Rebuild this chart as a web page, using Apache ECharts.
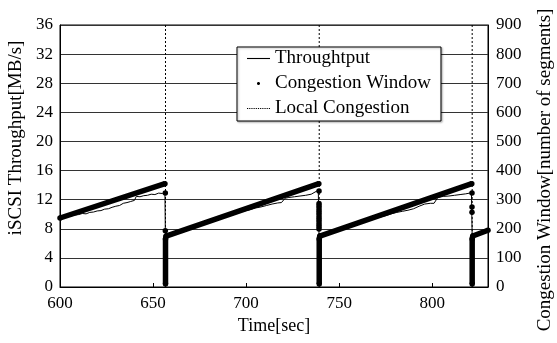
<!DOCTYPE html>
<html>
<head>
<meta charset="utf-8">
<script src="https://cdn.jsdelivr.net/npm/echarts@6/dist/echarts.min.js"></script>
<style>
html,body{margin:0;padding:0;background:#fff;}
#chart{width:557px;height:343px;}
</style>
</head>
<body>
<div id="chart"></div>
<script>
// ---- data ----
const xTicks = [600, 650, 700, 750, 800];
const leftTicks = [0, 4, 8, 12, 16, 20, 24, 28, 32, 36];
const rightTicks = [0, 100, 200, 300, 400, 500, 600, 700, 800, 900];

// Throughput [time(sec), MB/s]
const throughput = [
  [600, 9.45], [602, 9.55], [604, 9.7], [606, 9.75], [608, 9.9], [610, 9.95],
  [612, 10.1], [614, 10.05], [616, 10.25], [618, 10.3], [620, 10.45], [622, 10.5],
  [624, 10.7], [626, 10.75], [628, 10.95], [630, 11.1], [632, 11.2], [634, 11.5],
  [636, 11.6], [638, 11.75], [640, 11.9], [641, 12.45], [643, 12.4], [645, 12.55],
  [647, 12.6], [649, 12.75], [651, 12.7], [653, 12.9], [655, 12.85], [656.4, 12.95],
  [656.6, 7.7], [657, 7.0], [660, 7.35], [663, 7.6], [666, 7.85], [669, 8.1],
  [672, 8.35], [675, 8.6], [678, 8.8], [681, 9.05], [684, 9.35], [687, 9.5],
  [690, 9.8], [693, 10.0], [696, 10.25], [699, 10.45], [702, 10.6], [705, 10.85],
  [708, 11.0], [711, 11.2], [714, 11.4], [717, 11.55], [719, 11.6], [721, 12.2],
  [723, 12.3], [726, 12.4], [729, 12.5], [732, 12.6], [735, 12.75], [738.8, 13.3],
  [739.2, 7.0], [742, 7.2], [745, 7.45], [748, 7.7], [751, 7.95], [754, 8.2],
  [757, 8.45], [760, 8.7], [763, 8.9], [766, 9.15], [769, 9.4], [772, 9.6],
  [775, 9.8], [778, 10.05], [781, 10.25], [784, 10.4], [787, 10.55], [790, 10.75],
  [793, 11.1], [796, 11.4], [799, 11.5], [801, 11.5], [803, 12.3], [806, 12.45],
  [809, 12.5], [812, 12.6], [815, 12.7], [818, 12.8], [821.1, 12.95],
  [821.5, 7.0], [824, 7.2], [827, 7.45], [830, 7.7]
];

// Congestion window [time(sec), segments]; '-' = gap
const cwnd = [
  [600, 237], [656.4, 355], [656.5, '-'],
  [656.6, 323], [656.6, '-'], [656.6, 193], [656.6, '-'],
  [656.7, 10], [656.7, 165], [657, 175], [739.1, 355], [739.1, '-'],
  [739.2, 330], [739.2, '-'], [739.2, 287], [739.2, '-'], [739.2, 279], [739.2, '-'],
  [739.2, 271], [739.2, '-'], [739.2, 263], [739.2, '-'], [739.2, 255], [739.2, '-'],
  [739.2, 247], [739.2, '-'], [739.2, 239], [739.2, '-'], [739.2, 231], [739.2, '-'],
  [739.2, 223], [739.2, '-'], [739.2, 215], [739.2, '-'], [739.2, 207], [739.2, '-'],
  [739.2, 199], [739.2, '-'],
  [739.3, 10], [739.3, 165], [739.6, 175], [821.3, 355], [821.3, '-'],
  [821.4, 323], [821.4, '-'], [821.4, 275], [821.4, '-'], [821.4, 257], [821.4, '-'],
  [821.5, 10], [821.5, 165], [821.8, 175], [830, 195]
];

// Local congestion events (time, sec)
const congestionTimes = [656.7, 739.3, 821.5];

// ---- build ----
const localCong = [];
congestionTimes.forEach((t, i) => {
  if (i > 0) localCong.push([t, '-']);
  localCong.push([t, 0], [t, 36]);
});

const FONT = 'Liberation Serif';
const iconLine = 'path://M0,0L23,0L23,1.1L0,1.1Z';
const iconDot = 'path://M0,5L0.01,5L0.01,5.01L0,5.01ZM23,5L23.01,5L23.01,5.01L23,5.01ZM10.9,3.5L12.1,3.5L13,4.4L13,5.6L12.1,6.5L10.9,6.5L10,5.6L10,4.4Z';
let dotted = 'path://';
for (let x = 0; x < 23; x += 2.2) dotted += 'M' + x + ',0L' + (x + 1.2) + ',0L' + (x + 1.2) + ',1L' + x + ',1Z';
dotted += 'M23,0L23.01,0L23.01,0.01Z';

const chart = echarts.init(document.getElementById('chart'), null, {renderer: 'canvas'});
chart.setOption({
  animation: false,
  backgroundColor: '#fff',
  textStyle: {fontFamily: FONT, color: '#000'},
  grid: {left: 60, right: 69, top: 25, bottom: 56, show: true, borderColor: '#000', borderWidth: 1,
    containLabel: false, outerBoundsMode: 'none'},
  legend: {
    orient: 'vertical', left: 237, top: 47,
    padding: [2, 10, 3, 10], itemGap: 6, itemWidth: 23, itemHeight: 14,
    borderColor: '#000', borderWidth: 1, backgroundColor: '#fff',
    shadowColor: 'rgba(0,0,0,0.3)', shadowBlur: 2, shadowOffsetX: 1, shadowOffsetY: 1,
    itemStyle: {borderWidth: 0},
    textStyle: {fontFamily: FONT, fontSize: 19, color: '#000'},
    data: [
      {name: 'Throughtput', icon: iconLine},
      {name: 'Congestion Window', icon: iconDot},
      {name: 'Local Congestion', icon: dotted}
    ]
  },
  xAxis: {
    type: 'value', min: 600, max: 830, interval: 50,
    name: 'Time[sec]', nameLocation: 'middle', nameGap: 28,
    nameTextStyle: {fontFamily: FONT, fontSize: 18, color: '#000'},
    axisLine: {lineStyle: {color: '#000', width: 1}},
    axisTick: {inside: true, length: 4, lineStyle: {color: '#000'}},
    axisLabel: {fontFamily: FONT, fontSize: 17, color: '#000', margin: 8, showMaxLabel: false,
      formatter: v => xTicks.indexOf(v) >= 0 ? String(v) : ''},
    splitLine: {show: false}
  },
  yAxis: [
    {
      type: 'value', min: 0, max: 36, interval: 4, position: 'left',
      name: 'iSCSI Throughput[MB/s]', nameLocation: 'middle', nameGap: 34, nameRotate: 90,
      nameTextStyle: {fontFamily: FONT, fontSize: 19, color: '#000', padding: [0, 0, 0, 36]},
      axisLine: {show: true, lineStyle: {color: '#000'}},
      axisTick: {show: false},
      axisLabel: {fontFamily: FONT, fontSize: 17, color: '#000', margin: 7,
        formatter: v => leftTicks.indexOf(v) >= 0 ? String(v) : ''},
      splitLine: {show: true, lineStyle: {color: '#333', width: 1}}
    },
    {
      type: 'value', min: 0, max: 900, interval: 100, position: 'right',
      name: 'Congestion Window[number of segments]', nameLocation: 'middle', nameGap: 48, nameRotate: 90,
      nameTextStyle: {fontFamily: FONT, fontSize: 19, color: '#000', padding: [0, 28, 0, 0]},
      axisLine: {show: true, lineStyle: {color: '#000'}},
      axisTick: {show: false},
      axisLabel: {fontFamily: FONT, fontSize: 17, color: '#000', margin: 8,
        formatter: v => rightTicks.indexOf(v) >= 0 ? String(v) : ''},
      splitLine: {show: false}
    }
  ],
  series: [
    {
      name: 'Throughtput', type: 'line', yAxisIndex: 0, data: throughput,
      symbol: 'none', lineStyle: {color: '#000', width: 1}, itemStyle: {color: '#000'}, z: 3
    },
    {
      name: 'Congestion Window', type: 'line', yAxisIndex: 1, data: cwnd,
      symbol: 'circle', symbolSize: 5.5, showSymbol: true, connectNulls: false,
      lineStyle: {color: '#000', width: 5.5}, itemStyle: {color: '#000', borderWidth: 0}, z: 4
    },
    {
      name: 'Local Congestion', type: 'line', yAxisIndex: 0, data: localCong,
      symbol: 'none', connectNulls: false,
      lineStyle: {color: '#000', width: 1, type: [2, 2]}, itemStyle: {color: '#000'}, z: 2
    }
  ]
});
</script>
</body>
</html>
